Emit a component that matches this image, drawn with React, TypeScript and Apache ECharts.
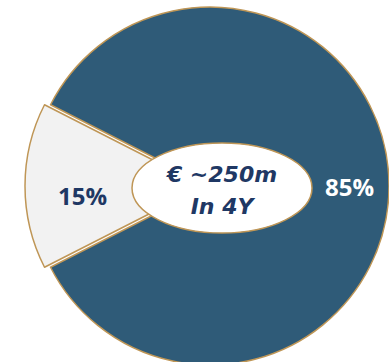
import React, { useEffect, useRef } from "react";
import * as echarts from "echarts";

const categories = ["Other", "Main"];
const shares = [15, 85];
const centerLines = ["€ ~250m", "In 4Y"];

const BLUE = "#2F5B78";
const GRAY = "#F2F2F2";
const GOLD = "#BF9656";
const NAVY = "#1F3864";
const LABEL_FONT = "'Open Sans', sans-serif";
const CENTER_FONT = "'DejaVu Sans', sans-serif";

export default function App() {
  const ref = useRef<HTMLDivElement>(null);
  useEffect(() => {
    document.body.style.margin = "0";
    if (!ref.current) return;
    const chart = echarts.init(ref.current, undefined, { renderer: "svg" });

    const blueData = categories.map((c, i) =>
      i === 1
        ? {
            name: c,
            value: shares[i],
            itemStyle: { color: BLUE, borderColor: GOLD, borderWidth: 1.5 },
            label: { show: true, color: "#FFFFFF" },
          }
        : {
            name: c,
            value: shares[i],
            itemStyle: { color: "transparent", borderWidth: 0 },
            label: { show: false },
          }
    );
    const grayData = categories.map((c, i) =>
      i === 0
        ? {
            name: c,
            value: shares[i],
            itemStyle: { color: GRAY, borderColor: GOLD, borderWidth: 1.5 },
            label: { show: true, color: NAVY },
          }
        : {
            name: c,
            value: shares[i],
            itemStyle: { color: "transparent", borderWidth: 0 },
            label: { show: false },
          }
    );

    const labelBase = {
      position: "inside",
      formatter: "{c}%",
      fontFamily: LABEL_FONT,
      fontWeight: "bold",
      fontSize: 24,
    };

    chart.setOption({
      animation: false,
      series: [
        {
          type: "pie",
          center: [210, 186],
          radius: [0, 179],
          startAngle: 207,
          clockwise: true,
          avoidLabelOverlap: false,
          silent: true,
          label: labelBase,
          labelLine: { show: false },
          labelLayout: { dx: 47, dy: 0 },
          data: blueData,
        },
        {
          type: "pie",
          center: [204, 186],
          radius: [0, 179],
          startAngle: 207,
          clockwise: true,
          avoidLabelOverlap: false,
          silent: true,
          label: labelBase,
          labelLine: { show: false },
          labelLayout: { dx: -29, dy: 9 },
          data: grayData,
        },
      ],
      graphic: [
        {
          type: "ellipse",
          shape: { cx: 222, cy: 188, rx: 90, ry: 45 },
          style: { fill: "#FFFFFF", stroke: GOLD, lineWidth: 1.5 },
          z: 100,
        },
        {
          type: "text",
          x: 222,
          y: 190,
          z: 101,
          style: {
            text: centerLines.join("\n"),
            fill: NAVY,
            font: `italic bold 22px ${CENTER_FONT}`,
            align: "center",
            verticalAlign: "middle",
            lineHeight: 32,
          },
        },
      ],
    });
    return () => chart.dispose();
  }, []);
  return <div ref={ref} style={{ width: 389, height: 362 }} />;
}
